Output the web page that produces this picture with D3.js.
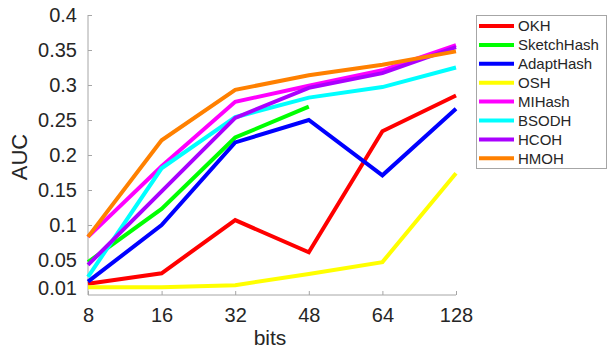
<!DOCTYPE html>
<html>
<head>
<meta charset="utf-8">
<script src="https://cdn.jsdelivr.net/npm/d3@7"></script>
<style>
  body { margin: 0; background: #fff; }
  text { font-family: "Liberation Sans", Arial, sans-serif; fill: #262626; }
</style>
</head>
<body>
<div class="chart"></div>
<script>
// Data
let bits = ["8", "16", "32", "48", "64", "128"];
let yTicks = [0.01, 0.05, 0.1, 0.15, 0.2, 0.25, 0.3, 0.35, 0.4];

let names = ["OKH", "SketchHash", "AdaptHash", "OSH", "MIHash", "BSODH", "HCOH", "HMOH"];
let colors = ["#ff0000", "#00ff00", "#0000ff", "#ffff00", "#ff00ff", "#00ffff", "#aa00ff", "#ff8000"];

let okh = [0.016, 0.031, 0.107, 0.061, 0.234, 0.285];
let sketchHash = [0.047, 0.123, 0.225, 0.269];
let adaptHash = [0.019, 0.100, 0.218, 0.250, 0.171, 0.266];
let osh = [0.011, 0.011, 0.014, 0.030, 0.047, 0.174];
let miHash = [0.083, 0.184, 0.276, 0.299, 0.321, 0.357];
let bsodh = [0.026, 0.181, 0.254, 0.282, 0.297, 0.325];
let hcoh = [0.043, 0.148, 0.253, 0.296, 0.317, 0.354];
let hmoh = [0.083, 0.221, 0.293, 0.314, 0.329, 0.348];

let series = [okh, sketchHash, adaptHash, osh, miHash, bsodh, hcoh, hmoh];

let svgWidth = 608;
let svgHeight = 351;

let margin = { top: 15, left: 88, right: 152, bottom: 56 };
let width = 456 - margin.left;
let height = 295 - margin.top;

let svg = d3.select(".chart")
    .append("svg")
    .attr("width", svgWidth)
    .attr("height", svgHeight);

let chartGroup = svg.append("g")
    .attr("transform", `translate(${margin.left}, ${margin.top})`);

let xScale = d3.scalePoint().domain(bits).range([0, width]);
let yScale = d3.scaleLinear().domain([0, 0.4]).range([height, 0]);

// Axes, ticks pointing inward
let xAxis = chartGroup.append("g")
    .attr("transform", `translate(0, ${height})`)
    .call(d3.axisBottom(xScale).tickSize(-4).tickPadding(13));

let yAxis = chartGroup.append("g")
    .call(d3.axisLeft(yScale).tickValues(yTicks).tickFormat(d => d3.format("")(d)).tickSize(-4).tickPadding(11));

[xAxis, yAxis].forEach(function(ax) {
    ax.selectAll("path, line").attr("stroke", "#a6a6a6").attr("stroke-width", 1);
    ax.selectAll("text").style("font-size", "20px").attr("fill", "#262626");
});
xAxis.select(".domain").attr("d", `M0,0H${width}`);
yAxis.select(".domain").attr("d", `M0,${height}V0`);

// Lines
let line = d3.line()
    .x((d, i) => xScale(bits[i]))
    .y(d => yScale(d));

chartGroup.selectAll(".series")
    .data(series)
    .enter()
    .append("path")
    .attr("class", "series")
    .attr("d", d => line(d))
    .attr("fill", "none")
    .attr("stroke", (d, i) => colors[i])
    .attr("stroke-width", 4)
    .attr("stroke-linejoin", "miter");

// Axis labels
svg.append("text")
    .attr("x", 270)
    .attr("y", 345)
    .attr("text-anchor", "middle")
    .style("font-size", "21px")
    .text("bits");

svg.append("text")
    .attr("transform", "translate(27, 157) rotate(-90)")
    .attr("text-anchor", "middle")
    .style("font-size", "22px")
    .text("AUC");

// Legend
let legend = svg.append("g").attr("transform", "translate(476, 15)");

legend.append("rect")
    .attr("x", 0.5)
    .attr("y", 0.5)
    .attr("width", 130)
    .attr("height", 153)
    .attr("fill", "#fff")
    .attr("stroke", "#a6a6a6");

let items = legend.selectAll(".item")
    .data(names)
    .enter()
    .append("g")
    .attr("class", "item")
    .attr("transform", (d, i) => `translate(0, ${11 + i * 18.9})`);

items.append("line")
    .attr("x1", 3)
    .attr("x2", 38)
    .attr("stroke", (d, i) => colors[i])
    .attr("stroke-width", 4);

items.append("text")
    .attr("x", 42)
    .attr("dy", "0.36em")
    .style("font-size", "15px")
    .text(d => d);
</script>
</body>
</html>
